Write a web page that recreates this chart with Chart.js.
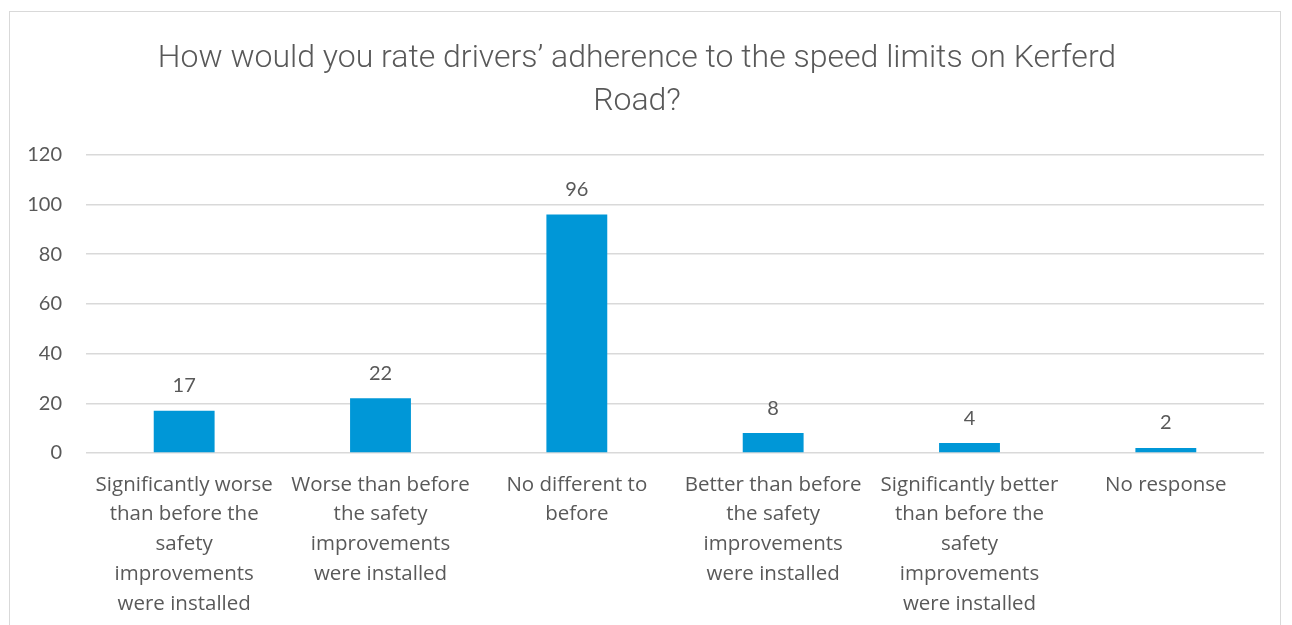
<!DOCTYPE html>
<html>
<head>
<meta charset="utf-8">
<script src="https://cdn.jsdelivr.net/npm/chart.js@4.4.1/dist/chart.umd.min.js"></script>
<style>
  html, body { margin: 0; padding: 0; background: #fff; overflow: hidden; }
  #wrap {
    position: absolute; left: 9px; top: 11px;
    width: 1270px; height: 628px;
    border: 1px solid #d9d9d9;
  }
  canvas { display: block; }
</style>
</head>
<body>
<div id="wrap"><canvas id="chart" width="1270" height="628"></canvas></div>
<script>
// Chart data
const titleLines = ['How would you rate drivers\u2019 adherence to the speed limits on Kerferd', 'Road?'];
const categories = [
    ['Significantly worse', 'than before the', 'safety', 'improvements', 'were installed'],
    ['Worse than before', 'the safety', 'improvements', 'were installed'],
    ['No different to', 'before'],
    ['Better than before', 'the safety', 'improvements', 'were installed'],
    ['Significantly better', 'than before the', 'safety', 'improvements', 'were installed'],
    ['No response']
];
const responses = [17, 22, 96, 8, 4, 2];
const yTicks = [0, 20, 40, 60, 80, 100, 120];

const textColor = '#595959';
const gridColor = '#d9d9d9';
const barColor = '#0097d7';

// Draws the value above each bar
const valueLabels = {
    id: 'valueLabels',
    afterDatasetsDraw(chart) {
        const ctx = chart.ctx;
        const meta = chart.getDatasetMeta(0);
        ctx.save();
        ctx.font = '20px Lato, "Open Sans", sans-serif';
        ctx.fillStyle = textColor;
        ctx.textAlign = 'center';
        ctx.textBaseline = 'middle';
        meta.data.forEach((bar, i) => {
            ctx.fillText(String(chart.data.datasets[0].data[i]), bar.x, bar.y - 25);
        });
        ctx.restore();
    }
};

const ctx = document.getElementById('chart').getContext('2d');
new Chart(ctx, {
    type: 'bar',
    data: {
        labels: categories,
        datasets: [{
            data: responses,
            backgroundColor: barColor,
            borderWidth: 0,
            barPercentage: 0.62,
            categoryPercentage: 0.5
        }]
    },
    options: {
        responsive: false,
        animation: false,
        layout: { padding: { left: 0, right: 16, top: 0, bottom: 0 } },
        plugins: {
            legend: { display: false },
            tooltip: { enabled: false },
            title: {
                display: true,
                text: titleLines,
                color: textColor,
                font: { family: 'Roboto, sans-serif', size: 32, weight: 300, lineHeight: 1.34 },
                padding: { top: 26, bottom: 31 }
            }
        },
        scales: {
            x: {
                grid: { display: false, drawTicks: false },
                border: { display: false },
                ticks: {
                    color: textColor,
                    font: { family: '"Open Sans", Lato, sans-serif', size: 20.5, lineHeight: 1.45 },
                    padding: 17,
                    maxRotation: 0,
                    autoSkip: false
                },
                afterFit(scale) { scale.height = 187; }
            },
            y: {
                min: 0,
                max: 120,
                afterBuildTicks(scale) { scale.ticks = yTicks.map(v => ({ value: v })); },
                grid: { color: gridColor, lineWidth: 1.5, drawTicks: false },
                border: { display: false },
                ticks: {
                    color: textColor,
                    font: { family: 'Lato, "Open Sans", sans-serif', size: 20 },
                    padding: 24
                },
                afterFit(scale) { scale.width = 76; }
            }
        }
    },
    plugins: [valueLabels]
});
</script>
</body>
</html>
